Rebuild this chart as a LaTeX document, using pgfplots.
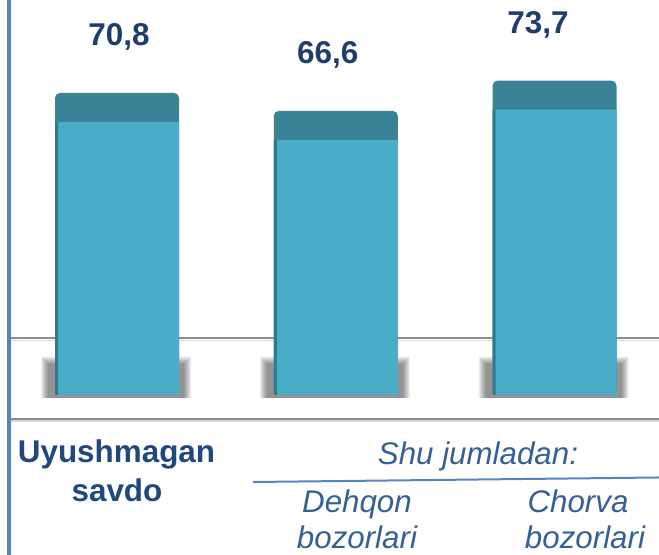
\documentclass[border=0pt]{standalone}
\usepackage{fontspec}
\setmainfont{Liberation Sans}
\usepackage{pgfplots}
\usepackage{pgfplotstable}
\pgfplotsset{compat=1.18}

\definecolor{barface}{HTML}{4AADC8}
\definecolor{bartop}{HTML}{3A8396}
\definecolor{baredge}{HTML}{2E7B90}
\definecolor{valtext}{HTML}{1F3D6B}
\definecolor{cattext}{HTML}{1F487C}
\definecolor{subtext}{HTML}{346096}
\definecolor{frameblue}{HTML}{5585C0}
\definecolor{floorgray}{HTML}{8C8C8C}

% total = bar value, face = light front part (top band is ~6.8 units deep)
\pgfplotstableread{
x total face dx label
0 70.8 64.0 2 70,8
1 66.6 59.8 -8 66,6
2 73.7 66.9 -16.5 73,7
}\bars

\begin{document}
\begin{tikzpicture}
\begin{axis}[
  width=659pt, height=555pt, scale only axis,
  hide axis, clip=false,
  xmin=-0.5349, xmax=2.4777,
  ymin=-37.51, ymax=92.60,
  bar width=124pt,
  shadow/.style={ybar, bar shift=-1pt, fill=black, fill opacity=0.065, draw=none, yshift=-3pt},
]
\coordinate (bl) at (rel axis cs:0,0);
\coordinate (tr) at (rel axis cs:1,1);

% floor lines
\addplot[floorgray!35, line width=1.5pt] coordinates {(-0.489,12.8) (2.4777,12.8)};
\addplot[floorgray, line width=2pt] coordinates {(-0.489,13.25) (2.4777,13.25)};
\addplot[floorgray!35, line width=1.5pt] coordinates {(-0.489,-6.1) (2.4777,-6.1)};
\addplot[floorgray, line width=2pt] coordinates {(-0.489,-5.63) (2.4777,-5.63)};

% soft shadows behind the bars
\addplot[shadow, bar width=150pt] coordinates {(0,9.7) (1,9.7) (2,9.7)};
\addplot[shadow, bar width=148pt] coordinates {(0,9.45) (1,9.45) (2,9.45)};
\addplot[shadow, bar width=146pt] coordinates {(0,9.2) (1,9.2) (2,9.2)};
\addplot[shadow, bar width=144pt] coordinates {(0,8.95) (1,8.95) (2,8.95)};
\addplot[shadow, bar width=142pt] coordinates {(0,8.7) (1,8.7) (2,8.7)};
\addplot[shadow, bar width=140pt] coordinates {(0,8.45) (1,8.45) (2,8.45)};
\addplot[shadow, bar width=138pt] coordinates {(0,8.2) (1,8.2) (2,8.2)};
\addplot[shadow, bar width=136pt] coordinates {(0,7.95) (1,7.95) (2,7.95)};

% bars: dark top band, light face, dark left edge
\addplot[ybar, bar shift=0pt, fill=bartop, draw=none, rounded corners=5pt,
  nodes near coords, point meta=explicit symbolic,
  visualization depends on={\thisrow{dx}\as\dx},
  every node near coord/.append style={anchor=base, yshift=47pt, xshift=\dx pt,
    inner sep=0pt, text=valtext, font=\fontsize{31.5}{38}\selectfont\bfseries}]
  table[x=x, y=total, meta=label] {\bars};
\addplot[ybar, bar shift=0pt, fill=barface, draw=none] table[x=x, y=face] {\bars};
\addplot[ybar, bar shift=-60.5pt, bar width=3pt, fill=baredge, draw=none] table[x=x, y=face] {\bars};

% frame lines
\addplot[frameblue, line width=4pt] coordinates {(-0.4937,-37.51) (-0.4937,92.60)};
\addplot[frameblue, line width=2pt] coordinates {(0.6217,-20.40) (2.4777,-19.34)};

% category labels
\begin{scope}[every node/.style={inner sep=0pt, anchor=base}]
\node[text=cattext, font=\fontsize{31.4}{39}\selectfont\bfseries] at (rel axis cs:0.1768,0.1663) {Uyushmagan};
\node[text=cattext, font=\fontsize{31.4}{39}\selectfont\bfseries] at (rel axis cs:0.1775,0.0960) {savdo};
\node[text=subtext, font=\fontsize{31.3}{38}\selectfont\itshape] at (rel axis cs:0.7253,0.1622) {Shu jumladan:};
\node[text=subtext, font=\fontsize{31.3}{38}\selectfont\itshape] at (rel axis cs:0.5417,0.0757) {Dehqon};
\node[text=subtext, font=\fontsize{31.3}{38}\selectfont\itshape] at (rel axis cs:0.5417,0.0108) {bozorlari};
\node[text=subtext, font=\fontsize{31.3}{38}\selectfont\itshape] at (rel axis cs:0.8771,0.0757) {Chorva};
\node[text=subtext, font=\fontsize{31.3}{38}\selectfont\itshape] at (rel axis cs:0.8877,0.0108) {bozorlari};
\end{scope}
\end{axis}
\pgfresetboundingbox
\path[use as bounding box] (bl) rectangle (tr);
\end{tikzpicture}
\end{document}
